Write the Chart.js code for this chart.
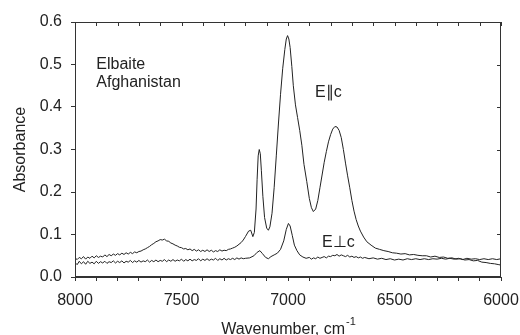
<!DOCTYPE html>
<html>
<head>
<meta charset="utf-8">
<script src="https://cdn.jsdelivr.net/npm/chart.js@4/dist/chart.umd.min.js"></script>
<style>
html,body{margin:0;padding:0;background:#fff;}
#wrap{width:520px;height:335px;position:relative;}
</style>
</head>
<body>
<div id="wrap"><canvas id="c" width="520" height="335"></canvas></div>
<script>
// ---- data ----
const wnPar = [8000,7990,7980,7970,7960,7950,7940,7930,7920,7910,7900,7890,7880,7870,7860,7850,7840,7830,7820,7810,7800,7790,7780,7770,7760,7750,7740,7730,7720,7710,7700,7690,7680,7670,7660,7650,7640,7630,7620,7610,7600,7590,7580,7570,7560,7550,7540,7530,7520,7510,7500,7490,7480,7470,7460,7450,7440,7430,7420,7410,7400,7390,7380,7370,7360,7350,7340,7330,7320,7310,7300,7290,7280,7270,7260,7250,7240,7230,7220,7210,7200,
  7185,7175,7165,7158,7150,7145,7140,7135,7130,7125,7118,7110,7100,7092,7085,7075,7065,7055,7045,7035,7025,7015,7008,7002,6996,6990,6982,6975,6965,6955,6945,6935,6925,6912,6900,6890,6881,6870,6860,6850,6840,6830,6820,6810,6800,6790,6780,6770,6760,6750,6740,6730,6720,6710,6700,6690,6680,6670,6660,6645,6630,6610,6590,6570,6550,6530,6510,6490,6470,6450,6430,6410,6390,6370,6350,6330,6310,6290,6270,6250,6230,6210,6190,6170,6150,6130,6110,6090,6070,6050,6030,6010,6000];
const absPar = [0.045,0.041,0.046,0.043,0.048,0.042,0.047,0.044,0.049,0.045,0.050,0.046,0.049,0.047,0.052,0.048,0.053,0.050,0.054,0.051,0.055,0.052,0.056,0.053,0.057,0.054,0.058,0.055,0.059,0.057,0.060,0.061,0.064,0.066,0.069,0.072,0.076,0.079,0.083,0.085,0.088,0.087,0.089,0.085,0.084,0.080,0.078,0.075,0.073,0.070,0.069,0.066,0.067,0.064,0.066,0.062,0.065,0.061,0.064,0.060,0.063,0.060,0.064,0.060,0.063,0.059,0.062,0.060,0.064,0.061,0.063,0.062,0.065,0.066,0.068,0.070,0.073,0.077,0.081,0.087,0.095,
  0.108,0.110,0.095,0.105,0.160,0.230,0.285,0.300,0.290,0.250,0.190,0.140,0.115,0.110,0.118,0.150,0.210,0.285,0.360,0.430,0.490,0.535,0.560,0.568,0.560,0.540,0.495,0.450,0.405,0.375,0.345,0.310,0.265,0.225,0.185,0.163,0.154,0.160,0.180,0.210,0.240,0.270,0.295,0.318,0.335,0.348,0.354,0.353,0.345,0.328,0.300,0.268,0.238,0.210,0.180,0.155,0.135,0.120,0.108,0.094,0.083,0.075,0.068,0.065,0.062,0.060,0.057,0.056,0.054,0.055,0.052,0.053,0.051,0.050,0.050,0.047,0.049,0.046,0.047,0.044,0.045,0.042,0.043,0.040,0.041,0.038,0.039,0.035,0.034,0.032,0.031,0.029,0.028];

const wnPerp = [8000,7990,7980,7970,7960,7950,7940,7930,7920,7910,7900,7890,7880,7870,7860,7850,7840,7830,7820,7810,7800,7790,7780,7770,7760,7750,7740,7730,7720,7710,7700,7690,7680,7670,7660,7650,7640,7630,7620,7610,7600,7590,7580,7570,7560,7550,7540,7530,7520,7510,7500,7490,7480,7470,7460,7450,7440,7430,7420,7410,7400,7390,7380,7370,7360,7350,7340,7330,7320,7310,7300,7290,7280,7270,7260,7250,7240,7230,7220,7210,7200,
  7180,7160,7145,7132,7120,7105,7092,7080,7065,7050,7035,7020,7008,6998,6990,6980,6970,6958,6945,6930,6915,6900,6890,6880,6870,6860,6850,6840,6830,6820,6810,6800,6790,6780,6770,6760,6750,6740,6730,6720,6710,6700,6690,6680,6670,6660,6650,6640,6620,6600,6580,6560,6540,6520,6500,6480,6460,6440,6420,6400,6380,6360,6340,6320,6300,6280,6260,6240,6220,6200,6180,6160,6140,6120,6100,6080,6060,6040,6020,6000];
const absPerp = [0.034,0.029,0.037,0.031,0.036,0.030,0.037,0.032,0.035,0.031,0.037,0.032,0.036,0.033,0.037,0.032,0.036,0.034,0.038,0.033,0.037,0.034,0.038,0.033,0.037,0.035,0.039,0.034,0.038,0.035,0.039,0.035,0.038,0.036,0.040,0.035,0.039,0.036,0.040,0.036,0.039,0.037,0.041,0.036,0.040,0.037,0.041,0.037,0.040,0.038,0.042,0.037,0.041,0.038,0.042,0.038,0.041,0.039,0.043,0.038,0.042,0.039,0.043,0.039,0.042,0.040,0.044,0.039,0.043,0.040,0.044,0.040,0.043,0.041,0.044,0.041,0.045,0.042,0.045,0.043,0.044,
  0.045,0.050,0.058,0.062,0.055,0.046,0.043,0.048,0.052,0.056,0.065,0.085,0.112,0.126,0.120,0.098,0.075,0.062,0.052,0.047,0.044,0.046,0.042,0.045,0.043,0.047,0.044,0.046,0.048,0.045,0.049,0.048,0.051,0.050,0.053,0.049,0.052,0.050,0.048,0.051,0.047,0.049,0.046,0.048,0.045,0.047,0.044,0.046,0.043,0.045,0.042,0.044,0.041,0.043,0.040,0.042,0.040,0.043,0.041,0.043,0.041,0.043,0.041,0.043,0.042,0.044,0.042,0.044,0.042,0.044,0.041,0.044,0.042,0.043,0.041,0.043,0.041,0.043,0.041,0.043,0.042];

const xMajorTicks = [8000,7500,7000,6500,6000];
const xMinorStep = 100;
const yTickLabels = ['0.0','0.1','0.2','0.3','0.4','0.5','0.6'];
const seriesNames = ['E\u2225c','E\u22A5c'];
const sampleLines = ['Elbaite','Afghanistan'];

const INK = '#222';
const FONT = '"Liberation Sans", Arial, sans-serif';

const framePlugin = {
  id: 'frame',
  afterDraw(chart) {
    const {ctx, chartArea: a, scales: {x, y}} = chart;
    ctx.save();
    ctx.strokeStyle = '#333';
    ctx.lineWidth = 1;
    ctx.strokeRect(Math.round(a.left) + 0.5, Math.round(a.top) + 0.5,
                   Math.round(a.right - a.left) - 1, Math.round(a.bottom - a.top) - 1);
    ctx.beginPath();
    for (let v = 6000; v <= 8000; v += xMinorStep) {
      const px = Math.round(x.getPixelForValue(v)) + 0.5;
      ctx.moveTo(px, a.top); ctx.lineTo(px, a.top + 4);
    }
    yTickLabels.forEach(t => {
      const py = Math.round(y.getPixelForValue(parseFloat(t))) + 0.5;
      ctx.moveTo(a.right, py); ctx.lineTo(a.right - 4, py);
    });
    ctx.stroke();

    ctx.fillStyle = INK;
    ctx.font = '16px ' + FONT;
    ctx.textBaseline = 'middle';
    ctx.textAlign = 'left';
    ctx.fillText(sampleLines[0], x.getPixelForValue(7900), y.getPixelForValue(0.50));
    ctx.fillText(sampleLines[1], x.getPixelForValue(7900), y.getPixelForValue(0.50) + 18);
    ctx.fillText(seriesNames[0], x.getPixelForValue(6873), y.getPixelForValue(0.433));
    ctx.fillText(seriesNames[1], x.getPixelForValue(6840), y.getPixelForValue(0.080));

    ctx.save();
    ctx.translate(21, (a.top + a.bottom) / 2);
    ctx.rotate(-Math.PI / 2);
    ctx.textAlign = 'center';
    ctx.fillText('Absorbance', 0, 0);
    ctx.restore();

    const main = 'Wavenumber, cm';
    const sup = '-1';
    ctx.font = '16px ' + FONT;
    const wMain = ctx.measureText(main).width;
    ctx.font = '11px ' + FONT;
    const wSup = ctx.measureText(sup).width;
    const cx = (a.left + a.right) / 2;
    const startX = cx - (wMain + wSup) / 2;
    ctx.textAlign = 'left';
    ctx.textBaseline = 'alphabetic';
    ctx.font = '16px ' + FONT;
    ctx.fillText(main, startX, 334);
    ctx.font = '11px ' + FONT;
    ctx.fillText(sup, startX + wMain + 1, 325);
    ctx.restore();
  }
};

new Chart(document.getElementById('c'), {
  type: 'line',
  data: {
    datasets: [
      { label: seriesNames[0], data: wnPar.map((w, i) => ({x: w, y: absPar[i]})),
        borderColor: INK, borderWidth: 1, pointRadius: 0, tension: 0, fill: false },
      { label: seriesNames[1], data: wnPerp.map((w, i) => ({x: w, y: absPerp[i]})),
        borderColor: INK, borderWidth: 1, pointRadius: 0, tension: 0, fill: false }
    ]
  },
  options: {
    responsive: false,
    animation: false,
    layout: { padding: { top: 22, right: 19, left: 0, bottom: 0 } },
    plugins: { legend: { display: false }, tooltip: { enabled: false } },
    scales: {
      x: {
        type: 'linear', reverse: true, min: 6000, max: 8000,
        afterFit: s => { s.height = 58; },
        afterBuildTicks: s => {
          const t = [];
          for (let v = 6000; v <= 8000; v += xMinorStep) t.push({value: v});
          s.ticks = t;
        },
        ticks: {
          autoSkip: false, maxRotation: 0, padding: 10, color: INK,
          font: { family: FONT, size: 16 },
          callback: v => xMajorTicks.includes(v) ? String(v) : ''
        },
        grid: { drawOnChartArea: false, drawTicks: true, tickLength: 4, color: '#333' },
        border: { display: true, color: '#333' }
      },
      y: {
        type: 'linear', min: 0, max: 0.6,
        afterFit: s => { s.width = 75; },
        afterBuildTicks: s => { s.ticks = yTickLabels.map(t => ({value: parseFloat(t)})); },
        ticks: {
          padding: 9, color: INK,
          font: { family: FONT, size: 16 },
          callback: (v, i) => yTickLabels[i]
        },
        grid: { drawOnChartArea: false, drawTicks: true, tickLength: 4, color: '#333' },
        border: { display: true, color: '#333' }
      }
    }
  },
  plugins: [framePlugin]
});
</script>
</body>
</html>
